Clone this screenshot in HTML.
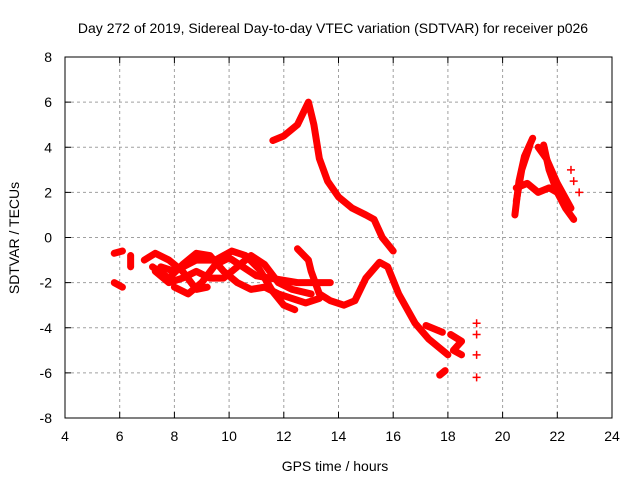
<!DOCTYPE html>
<html><head><meta charset="utf-8"><style>
body{margin:0;background:#fff;font-family:"Liberation Sans",sans-serif}
svg text{font-family:"Liberation Sans",sans-serif;font-size:14px;fill:#000}
</style></head><body>
<svg id="c" width="640" height="480" xmlns="http://www.w3.org/2000/svg">
<text x="333" y="33" text-anchor="middle">Day 272 of 2019, Sidereal Day-to-day VTEC variation (SDTVAR) for receiver p026</text>
<text x="335" y="471" text-anchor="middle">GPS time / hours</text>
<text transform="translate(19,238) rotate(-90)" text-anchor="middle">SDTVAR / TECUs</text>
<g id="grid"></g><g id="series"></g>
<rect x="65" y="57" width="547" height="361" fill="none" stroke="#000"/>
</svg>
<script>
const xTicks=[4,6,8,10,12,14,16,18,20,22,24];
const yTicks=[-8,-6,-4,-2,0,2,4,6,8];
const tracks=[
[[11.6,4.3],[12,4.5],[12.5,5],[12.9,6],[13.1,5],[13.3,3.5],[13.6,2.5],[14,1.8],[14.5,1.3],[15,1],[15.3,0.8],[15.6,0],[16,-0.6]],
[[12.5,-0.5],[12.9,-1],[13,-1.5],[13.3,-2.5],[13.7,-2.8],[14.2,-3],[14.6,-2.8],[15,-1.8],[15.5,-1.1],[15.8,-1.3],[16.2,-2.5],[16.8,-3.8],[17.3,-4.5],[17.8,-5],[18,-5.2]],
[[6.9,-1],[7.3,-0.7],[7.8,-1],[8.3,-1.5],[8.8,-2.3],[9.2,-2.2]],
[[7.2,-1.3],[7.8,-1.8],[8.3,-1.2],[8.8,-0.7],[9.3,-0.8],[9.8,-1.5],[10.3,-2],[10.8,-2.3],[11.3,-2.2],[11.8,-2.5],[12.3,-2.7],[12.8,-2.9],[13.3,-2.7]],
[[7.3,-1.5],[7.8,-2],[8.3,-1.8],[8.8,-1.5],[9.3,-1.8],[9.8,-1.8],[10.3,-1.3],[10.8,-0.8],[11.3,-1.2],[11.8,-2],[12.3,-2.3],[13,-2.5]],
[[8,-2.2],[8.5,-2.5],[9,-2],[9.5,-1.2],[10,-0.9],[10.5,-1.3],[11,-1.7],[11.5,-1.8],[12,-1.9],[12.5,-2],[13.7,-2]],
[[7.5,-1.3],[8,-1.5],[8.8,-1],[9.5,-1],[10.1,-0.6],[10.6,-0.8],[11.1,-1.4],[11.6,-2.4],[12,-3],[12.4,-3.2]],
[[5.8,-0.7],[6.1,-0.6]],[[5.8,-2],[6.1,-2.2]],[[6.4,-0.8],[6.4,-1.3]],
[[17.2,-3.9],[17.8,-4.2]],[[18.1,-4.3],[18.5,-4.6],[18.2,-5],[18.5,-5.2]],[[17.7,-6.1],[17.9,-5.9]],
[[20.45,1],[20.6,2.5],[20.8,3.6],[21.1,4.4]],
[[20.5,1.6],[20.7,3],[21,4.1]],
[[21.5,4.1],[21.7,3],[22,2],[22.3,1.3],[22.6,0.8]],
[[21.3,4],[21.6,3.5],[22,2.4],[22.5,1.3]],
[[20.5,2.2],[20.9,2.4],[21.3,2],[21.7,2.2],[22,2]]
];
const singles=[[19.05,-3.8],[19.05,-4.3],[19.05,-5.2],[19.05,-6.2],[22.5,3],[22.6,2.5],[22.8,2]];
const X=v=>65+(v-4)*547/20, Y=v=>418-(v+8)*361/16;
const NS="http://www.w3.org/2000/svg";
const g=document.getElementById('grid'), s=document.getElementById('series');
function mk(tag,at,p){const e=document.createElementNS(NS,tag);for(const k in at)e.setAttribute(k,at[k]);p.appendChild(e);return e;}
xTicks.forEach(t=>{const x=X(t);
 if(t>4&&t<24){const l=mk('line',{x1:x,x2:x,y1:57,y2:418,stroke:'#a0a0a0','stroke-dasharray':'3,3'},g);
 }
 mk('line',{x1:x,x2:x,y1:418,y2:412,stroke:'#000'},g);mk('line',{x1:x,x2:x,y1:57,y2:63,stroke:'#000'},g);
 const tx=mk('text',{x:x,y:441,'text-anchor':'middle'},g);tx.textContent=t;
 });
yTicks.forEach(t=>{const y=Y(t);
 if(t>-8&&t<8){const l=mk('line',{x1:65,x2:612,y1:y,y2:y,stroke:'#a0a0a0','stroke-dasharray':'3,3'},g);
 }
 mk('line',{x1:65,x2:71,y1:y,y2:y,stroke:'#000'},g);mk('line',{x1:612,x2:606,y1:y,y2:y,stroke:'#000'},g);
 const tx=mk('text',{x:52,y:y+5,'text-anchor':'end'},g);tx.textContent=t;
 });
tracks.forEach(tr=>{
 const p=mk('polyline',{points:tr.map(d=>X(d[0])+','+Y(d[1])).join(' '),fill:'none',stroke:'#ff0000','stroke-width':7,'stroke-linejoin':'round','stroke-linecap':'round'},s);
 });
singles.forEach(d=>{const x=X(d[0]),y=Y(d[1]);
 const p=mk('path',{d:`M${x-4},${y}H${x+4}M${x},${y-4}V${y+4}`,stroke:'#ff0000','stroke-width':1.5},s);
 });
</script>
</body></html>
